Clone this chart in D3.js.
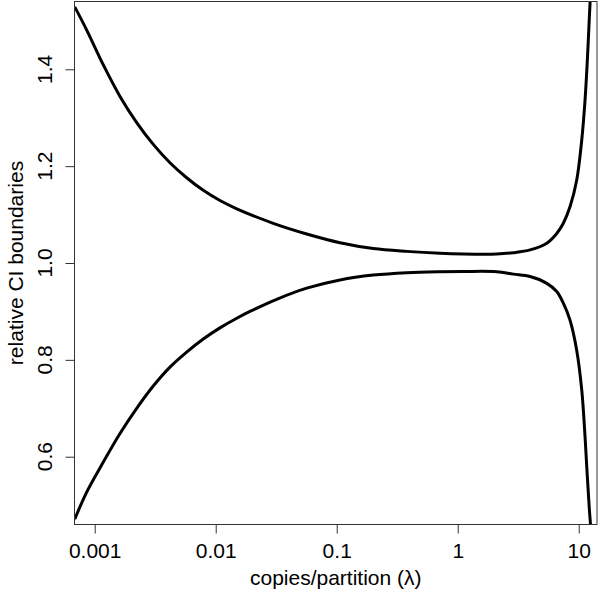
<!DOCTYPE html>
<html>
<head>
<meta charset="utf-8">
<script src="https://cdn.jsdelivr.net/npm/d3@7"></script>
<style>
  body { margin: 0; background: #fff; }
  svg text { font-family: "Liberation Sans", Arial, Helvetica, sans-serif; fill: #000; }
</style>
</head>
<body>
<svg id="chart"></svg>
<script>
// values
const upperLambda = [0.000684, 0.000859, 0.001178, 0.001618, 0.002223, 0.003048, 0.004188, 0.005754, 0.00789, 0.01084, 0.01493, 0.0299, 0.0565, 0.1064, 0.2005, 0.379, 0.714, 1.11, 2.10, 2.88, 3.96, 5.45, 6.58, 7.46, 8.47, 9.62, 10.59, 11.28, 11.78, 12.25, 12.53];
const upperBound = [1.529, 1.481, 1.409, 1.344, 1.290, 1.245, 1.207, 1.176, 1.150, 1.129, 1.112, 1.082, 1.060, 1.042, 1.030, 1.024, 1.020, 1.0186, 1.0186, 1.0213, 1.027, 1.041, 1.061, 1.082, 1.116, 1.171, 1.254, 1.337, 1.419, 1.509, 1.56];

const lowerLambda = [0.000684, 0.000859, 0.001178, 0.001618, 0.002223, 0.003048, 0.004188, 0.005754, 0.00789, 0.01084, 0.01493, 0.0192, 0.0319, 0.0565, 0.1064, 0.2005, 0.379, 0.714, 1.11, 2.10, 2.88, 3.96, 5.45, 6.58, 7.46, 8.47, 9.62, 10.59, 11.28, 11.78, 12.25, 12.7];
const lowerBound = [0.471, 0.527, 0.589, 0.648, 0.700, 0.746, 0.785, 0.816, 0.843, 0.866, 0.886, 0.900, 0.925, 0.948, 0.965, 0.975, 0.980, 0.982, 0.9825, 0.982, 0.977, 0.972, 0.958, 0.941, 0.917, 0.882, 0.820, 0.738, 0.641, 0.559, 0.490, 0.44];

const xTicks = [0.001, 0.01, 0.1, 1, 10];
const xTickLabels = ["0.001", "0.01", "0.1", "1", "10"];
const yTicks = [0.6, 0.8, 1.0, 1.2, 1.4];

const width = 600, height = 593;
const box = { left: 74.5, right: 597, top: 1.5, bottom: 524.5 };

const svg = d3.select("#chart")
  .attr("width", width)
  .attr("height", height);

const x = d3.scaleLog()
  .domain([Math.pow(10, -3.167), Math.pow(10, 1.151)])
  .range([box.left, box.right]);

const y = d3.scaleLinear()
  .domain([0.46, 1.54])
  .range([box.bottom, box.top]);

svg.append("defs").append("clipPath")
  .attr("id", "plot-clip")
  .append("rect")
  .attr("x", box.left)
  .attr("y", box.top)
  .attr("width", box.right - box.left)
  .attr("height", box.bottom - box.top);

const line = d3.line()
  .x(d => x(d[0]))
  .y(d => y(d[1]))
  .curve(d3.curveCatmullRom.alpha(0.5));

const curves = svg.append("g").attr("clip-path", "url(#plot-clip)");

curves.selectAll("path.bound")
  .data([d3.zip(upperLambda, upperBound), d3.zip(lowerLambda, lowerBound)])
  .enter().append("path")
  .attr("class", "bound")
  .attr("d", line)
  .attr("fill", "none")
  .attr("stroke", "#000")
  .attr("stroke-width", 3)
  .attr("stroke-linejoin", "round");

// x axis
const xAxis = svg.append("g")
  .attr("transform", `translate(0,${box.bottom})`)
  .call(d3.axisBottom(x)
    .tickValues(xTicks)
    .tickFormat((d, i) => xTickLabels[i])
    .tickSize(9)
    .tickSizeOuter(0));
xAxis.select(".domain").remove();
xAxis.selectAll(".tick line").attr("stroke", "#333");
xAxis.selectAll(".tick text")
  .attr("y", 33)
  .attr("dy", 0)
  .style("font-size", "21px");

// y axis, labels parallel to the axis
const yAxis = svg.append("g")
  .attr("transform", `translate(${box.left},0)`)
  .call(d3.axisLeft(y)
    .tickValues(yTicks)
    .tickFormat("")
    .tickSize(9)
    .tickSizeOuter(0));
yAxis.select(".domain").remove();
yAxis.selectAll(".tick line").attr("stroke", "#333");
yAxis.selectAll(".tick text").remove();

svg.selectAll(".ylab")
  .data(yTicks)
  .enter().append("text")
  .attr("class", "ylab")
  .attr("transform", d => `translate(52,${y(d)}) rotate(-90)`)
  .attr("text-anchor", "middle")
  .style("font-size", "21px")
  .text(d3.format(".1f"));

// frame
svg.append("rect")
  .attr("x", box.left)
  .attr("y", box.top)
  .attr("width", box.right - box.left)
  .attr("height", box.bottom - box.top)
  .attr("fill", "none")
  .attr("stroke", "#333")
  .attr("stroke-width", 1);

// axis titles
svg.append("text")
  .text("copies/partition (λ)")
  .attr("x", (box.left + box.right) / 2)
  .attr("y", 585)
  .attr("text-anchor", "middle")
  .style("font-size", "21px");

svg.append("text")
  .text("relative CI boundaries")
  .attr("transform", `translate(23,${(box.top + box.bottom) / 2}) rotate(-90)`)
  .attr("text-anchor", "middle")
  .style("font-size", "21px");
</script>
</body>
</html>
